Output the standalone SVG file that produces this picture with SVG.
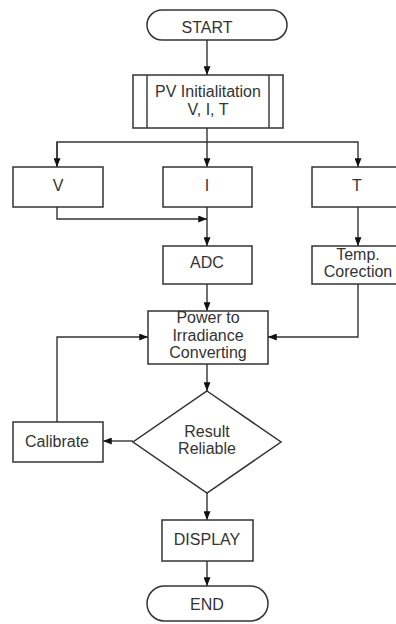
<svg xmlns="http://www.w3.org/2000/svg" width="396" height="624" viewBox="0 0 396 624">
<style>
.b{fill:#fff;stroke:#333;stroke-width:1.5}
.c{fill:none;stroke:#333;stroke-width:1.4}
text{font-family:"Liberation Sans",Arial,sans-serif;font-size:16px;fill:#333;text-anchor:middle}
</style>
<defs>
<marker id="a" viewBox="0 0 10 8" refX="10" refY="4" markerWidth="9" markerHeight="7" markerUnits="userSpaceOnUse" orient="auto">
<path d="M0,0 L10,4 L0,8 z" fill="#111"/>
</marker>
</defs>
<rect width="396" height="624" fill="#fff"/>
<g id="connectors">
<path class="c" d="M207,40 V75" marker-end="url(#a)"/>
<path class="c" d="M207,128 V167" marker-end="url(#a)"/>
<path class="c" d="M57,167 V142 H358 V167" marker-end="url(#a)"/>
<path class="c" d="M57,142 V167" marker-end="url(#a)"/>
<path class="c" d="M57,207 V219 H207" marker-end="url(#a)"/>
<path class="c" d="M207,207 V246" marker-end="url(#a)"/>
<path class="c" d="M358,207 V246" marker-end="url(#a)"/>
<path class="c" d="M207,284 V311" marker-end="url(#a)"/>
<path class="c" d="M358,284 V337 H268" marker-end="url(#a)"/>
<path class="c" d="M207,364 V391" marker-end="url(#a)"/>
<path class="c" d="M133,441 H103" marker-end="url(#a)"/>
<path class="c" d="M57,422 V337 H148" marker-end="url(#a)"/>
<path class="c" d="M207,493 V520" marker-end="url(#a)"/>
<path class="c" d="M207,561 V586" marker-end="url(#a)"/>
</g>
<g id="start"><rect class="b" x="147" y="10" width="140" height="30" rx="15"/><text x="207" y="33">START</text></g>
<g id="pvinit"><rect class="b" x="133" y="75" width="150" height="53"/><path class="c" d="M147,75 V128 M269,75 V128"/><text x="208" y="97">PV Initialitation</text><text x="208" y="115">V, I, T</text></g>
<g id="v"><rect class="b" x="13" y="167" width="90" height="40"/><text x="58" y="191">V</text></g>
<g id="i"><rect class="b" x="163" y="167" width="89" height="40"/><text x="207" y="191">I</text></g>
<g id="t"><rect class="b" x="312" y="167" width="91" height="40"/><text x="357" y="191">T</text></g>
<g id="adc"><rect class="b" x="163" y="246" width="89" height="38"/><text x="207" y="268">ADC</text></g>
<g id="temp"><rect class="b" x="312" y="246" width="91" height="38"/><text x="358" y="260">Temp.</text><text x="358" y="277">Corection</text></g>
<g id="power"><rect class="b" x="148" y="311" width="120" height="53"/><text x="208" y="323">Power to</text><text x="208" y="341">Irradiance</text><text x="208" y="358">Converting</text></g>
<g id="decision"><path class="b" d="M207,391 L281,442 L207,493 L133,442 Z"/><text x="207" y="437">Result</text><text x="207" y="454">Reliable</text></g>
<g id="calibrate"><rect class="b" x="13" y="422" width="90" height="40"/><text x="57" y="447">Calibrate</text></g>
<g id="display"><rect class="b" x="162" y="520" width="91" height="41"/><text x="207" y="545">DISPLAY</text></g>
<g id="end"><rect class="b" x="147" y="586" width="121" height="35" rx="17.5"/><text x="207" y="610">END</text></g>
</svg>
